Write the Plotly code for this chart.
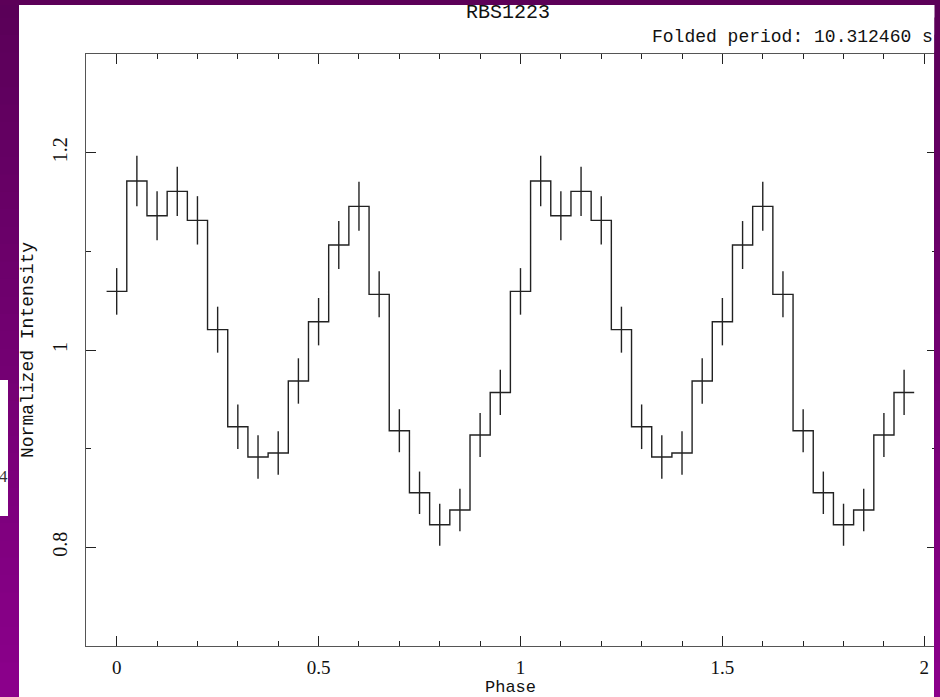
import plotly.graph_objects as go

# ---------------- data ----------------
phase_centers = [0.00, 0.05, 0.10, 0.15, 0.20, 0.25, 0.30, 0.35, 0.40, 0.45,
                 0.50, 0.55, 0.60, 0.65, 0.70, 0.75, 0.80, 0.85, 0.90, 0.95]
intensity = [1.0594, 1.1713, 1.1361, 1.1608, 1.1314, 1.0206, 0.9222, 0.8915, 0.8956, 0.9686,
             1.0287, 1.1064, 1.1456, 1.0564, 0.9182, 0.8553, 0.8229, 0.8378, 0.9138, 0.9570]
errors = [0.0236, 0.0256, 0.0248, 0.0250, 0.0245, 0.0233, 0.0226, 0.0220, 0.0220, 0.0230,
          0.0240, 0.0243, 0.0248, 0.0233, 0.0218, 0.0215, 0.0213, 0.0215, 0.0223, 0.0230]
bin_width = 0.05
cycles = [0, 1]  # folded curve shown over two cycles

x_tickvals = [0, 0.5, 1, 1.5, 2]
x_ticktext = ["0", "0.5", "1", "1.5", "2"]
y_tickvals = [0.8, 1.0, 1.2]
y_ticktext = ["0.8", "1", "1.2"]

title_text = "RBS1223"
period_text = "Folded period: 10.312460 s"
x_title = "Phase"
y_title = "Normalized Intensity"

# ---------------- build series ----------------
px_phase, px_val, px_err = [], [], []
for c in cycles:
    for p, v, e in zip(phase_centers, intensity, errors):
        px_phase.append(p + c)
        px_val.append(v)
        px_err.append(e)

step_x = [p - bin_width / 2 for p in px_phase] + [px_phase[-1] + bin_width / 2]
step_y = px_val + [px_val[-1]]

# ---------------- layout geometry ----------------
W, H = 940, 697
L, T, R, B = 86, 54, 937, 646


def pxx(px):
    return (px - L) / (R - L)


def pxy(py):
    return (B - py) / (B - T)


fig = go.Figure()
fig.add_trace(go.Scatter(x=step_x, y=step_y, mode="lines", line_shape="hv",
                         line=dict(color="#222222", width=1.4), hoverinfo="skip",
                         showlegend=False))
fig.add_trace(go.Scatter(x=px_phase, y=px_val, mode="markers",
                         marker=dict(size=1, opacity=0),
                         error_y=dict(type="data", array=px_err, visible=True,
                                      width=0, thickness=1.4, color="#222222"),
                         showlegend=False))

xmin = -0.076
xmax = xmin + (R - L) / 403.8

axis_common = dict(showgrid=False, zeroline=False, showline=True, linecolor="#555555",
                   linewidth=1.4, mirror="ticks", ticks="inside", ticklen=10,
                   tickwidth=1.3, tickcolor="#222222")

fig.update_xaxes(range=[xmin, xmax], tickvals=x_tickvals, ticktext=x_ticktext,
                 ticklabelstandoff=4,
                 tickfont=dict(family="Liberation Serif", size=19, color="#111111"),
                 minor=dict(dtick=0.1, tick0=0, ticks="inside", ticklen=5,
                            tickwidth=1.2, tickcolor="#222222"),
                 **axis_common)
fig.update_yaxes(range=[0.7, 1.3], tickvals=y_tickvals, ticktext=y_ticktext,
                 tickangle=-90, ticklabelstandoff=10,
                 tickfont=dict(family="Liberation Serif", size=20, color="#111111"),
                 minor=dict(dtick=0.1, tick0=0, ticks="inside", ticklen=5,
                            tickwidth=1.2, tickcolor="#222222"),
                 **axis_common)

shapes = []
# purple frame with vertical gradient (each strip runs to the bottom, so no seams)
n = 40
for i in range(n):
    y0 = H * i / n
    f = (i + 0.5) / n
    col = "rgb(%d,0,%d)" % (90 + 50 * f, 88 + 52 * f)
    shapes.append(dict(type="rect", xref="paper", yref="paper", layer="above",
                       x0=pxx(-2), x1=pxx(19), y0=pxy(y0), y1=pxy(H + 2),
                       fillcolor=col, line=dict(width=0)))
    shapes.append(dict(type="rect", xref="paper", yref="paper", layer="above",
                       x0=pxx(934.5), x1=pxx(W + 2), y0=pxy(y0), y1=pxy(H + 2),
                       fillcolor=col, line=dict(width=0)))
shapes.append(dict(type="rect", xref="paper", yref="paper", layer="above",
                   x0=pxx(-2), x1=pxx(W + 2), y0=pxy(-2), y1=pxy(5),
                   fillcolor="rgb(92,0,88)", line=dict(width=0)))
# white slide fragment on the left
shapes.append(dict(type="rect", xref="paper", yref="paper", layer="above",
                   x0=pxx(-2), x1=pxx(8), y0=pxy(380), y1=pxy(516),
                   fillcolor="white", line=dict(width=0)))

annotations = [
    dict(text=title_text, xref="paper", yref="paper", x=pxx(508), y=pxy(13),
         xanchor="center", yanchor="middle", showarrow=False,
         font=dict(family="Liberation Mono", size=20, color="#111111")),
    dict(text=period_text, xref="paper", yref="paper", x=pxx(935), y=pxy(37),
         xanchor="right", yanchor="middle", showarrow=False,
         font=dict(family="Liberation Mono", size=18, color="#111111")),
    dict(text=x_title, xref="paper", yref="paper", x=pxx(510), y=pxy(687.5),
         xanchor="center", yanchor="middle", showarrow=False, borderpad=0,
         font=dict(family="Liberation Mono", size=17, color="#111111")),
    dict(text=y_title, xref="paper", yref="paper", x=pxx(28), y=pxy(350),
         xanchor="center", yanchor="middle", showarrow=False, textangle=-90,
         font=dict(family="Liberation Mono", size=18, color="#111111")),
    dict(text="4", xref="paper", yref="paper", x=pxx(3), y=pxy(476),
         xanchor="center", yanchor="middle", showarrow=False,
         font=dict(family="Liberation Serif", size=17, color="#333333")),
]

fig.update_layout(width=W, height=H, margin=dict(l=L, r=W - R, t=T, b=H - B),
                  paper_bgcolor="white", plot_bgcolor="white",
                  shapes=shapes, annotations=annotations, showlegend=False)

fig.write_html("out.html")
